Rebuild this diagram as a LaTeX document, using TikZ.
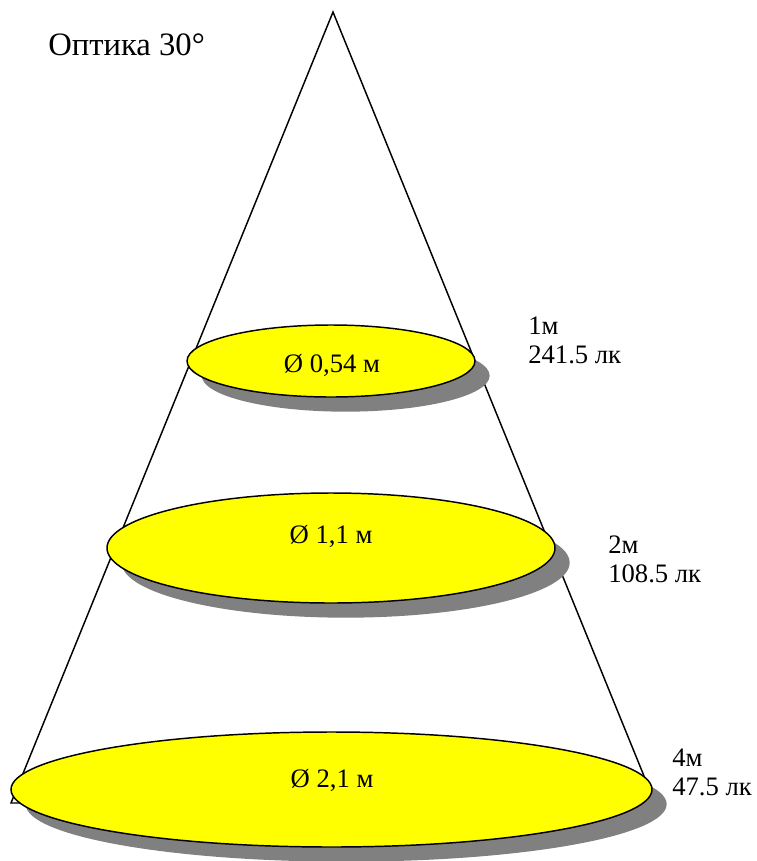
\documentclass[tikz,border=0pt]{standalone}
\usepackage{fontspec}
\setmainfont{Liberation Serif}
\usetikzlibrary{shapes.geometric, shadows}
\definecolor{spotyellow}{RGB}{255,255,0}
\definecolor{spotshadow}{RGB}{128,128,128}

\begin{document}
\begin{tikzpicture}[
  x=0.75pt, y=-0.75pt,
  conelines/.style={line width=1.1pt, line join=miter},
  spot/.style={ellipse, draw=black, line width=1.1pt, fill=spotyellow, inner sep=0pt,
               drop shadow={shadow xshift=11pt, shadow yshift=-11pt, fill=spotshadow, opacity=1}},
  diam/.style={anchor=base, inner sep=0pt, font=\fontsize{20}{22}\selectfont},
  dist/.style={anchor=base west, inner sep=0pt, align=left, font=\fontsize{20}{21.5}\selectfont},
]
\useasboundingbox (0,0) rectangle (757,861);

% ---------------------------------------------------------------
% light cone
% ---------------------------------------------------------------
\coordinate (apex) at (333,12);
\coordinate (bl) at (11,803);
\coordinate (br) at (655,803);
\draw[conelines] (apex) -- (bl) -- (br) -- cycle;

\node[anchor=base west, inner sep=0pt, font=\fontsize{24.5}{28}\selectfont] (title) at (48,55) {Оптика 30°};

% ---------------------------------------------------------------
% light spots at 1, 2 and 4 m
% ---------------------------------------------------------------
\node[spot, minimum width=216pt, minimum height=54pt] (s1) at (331,361) {};
\node[spot, minimum width=336pt, minimum height=82.5pt] (s2) at (331,548) {};
\node[spot, minimum width=480.75pt, minimum height=86.25pt] (s4) at (331.5,789.5) {};

\node[diam] (d1) at (332,372) {Ø 0,54 м};
\node[diam] (d2) at (331,543) {Ø 1,1 м};
\node[diam] (d4) at (332,787) {Ø 2,1 м};

% distance and illuminance
\node[dist] (l1) at (528,363) {1м\\241.5 лк};
\node[dist] (l2) at (608,582) {2м\\108.5 лк};
\node[dist] (l4) at (672,795) {4м\\47.5 лк};

\end{tikzpicture}
\end{document}
